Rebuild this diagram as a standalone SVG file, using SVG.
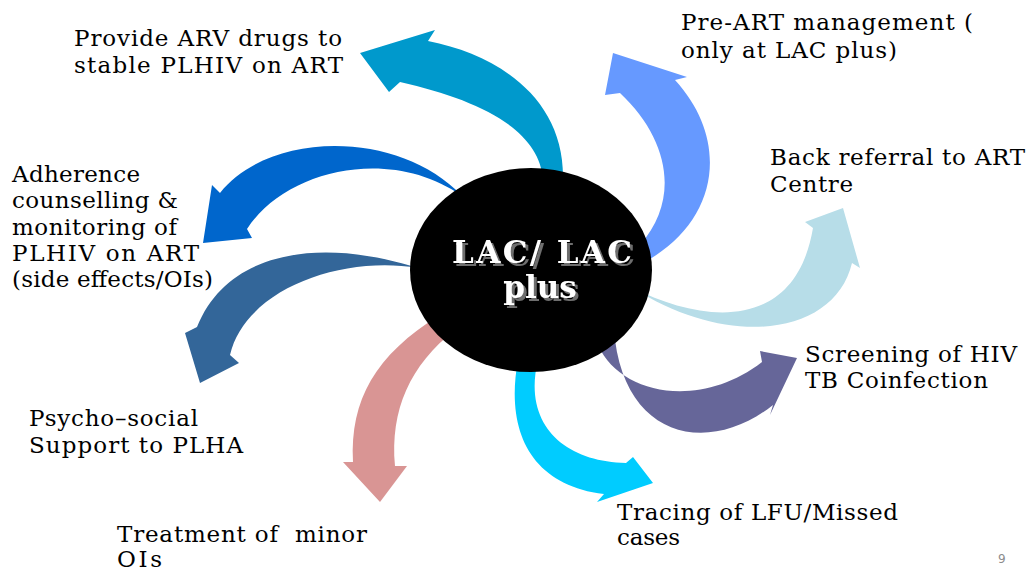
<svg xmlns="http://www.w3.org/2000/svg" width="1029" height="570" viewBox="0 0 1029 570">
<style>
.lbl{font-family:"DejaVu Serif","Liberation Serif",serif;font-size:23px;fill:#000}
.ctr{font-family:"DejaVu Serif","Liberation Serif",serif;font-size:31px;font-weight:bold;fill:#ffffff}
.pg{font-family:"DejaVu Sans","Liberation Sans",sans-serif;font-size:12px;fill:#8c8c8c}
</style>
<defs>
<filter id="shadow" x="-10%" y="-20%" width="130%" height="150%">
<feOffset in="SourceAlpha" dx="2.5" dy="2.5" result="off"/>
<feFlood flood-color="#6e6e6e"/>
<feComposite in2="off" operator="in" result="sh"/>
<feMerge><feMergeNode in="sh"/><feMergeNode in="SourceGraphic"/></feMerge>
</filter>
</defs>
<rect width="1029" height="570" fill="#ffffff"/>
<g id="connectors">
<path id="arrow-arv" fill="#0099CC" d="M 543,180 C 540,130 480,100 400,82 L 389,92 L 360,53 L 435,30 L 428,41 C 500,55 565,100 563,180 Z"/>
<path id="arrow-adherence" fill="#0066CC" d="M 462,196 C 400,130 270,130 220,193 L 212,185 L 203,243 L 252,238 L 247,229 C 285,170 390,145 462,196 Z"/>
<path id="arrow-psycho" fill="#336699" d="M 418,268 C 330,240 230,245 197,327 L 185,333 L 200,383 L 239,363 L 230,355 C 245,290 340,255 418,268 Z"/>
<path id="arrow-treatment" fill="#D99594" d="M 353,462 C 350,400 375,355 440,315 L 455,330 C 410,365 390,410 395,466 L 407,466 L 380,502 L 343,462 Z"/>
<path id="arrow-tracing" fill="#00CCFF" d="M 518,360 C 505,430 530,485 604,494 L 597,502 L 653,483 L 633,457 L 626,463 C 565,462 522,425 538,360 Z"/>
<path id="arrow-screening" fill="#666699" d="M 598,345 C 620,395 700,410 762,362 L 760,351 L 797,358 L 770,415 L 773,405 C 710,455 628,440 615,340 Z"/>
<path id="arrow-backref" fill="#B7DDE8" d="M 633,288 C 700,322 795,335 813,228 L 805,222 L 843,208 L 860,268 L 852,263 C 835,335 730,350 633,288 Z"/>
<path id="arrow-preart" fill="#6699FF" d="M 620,93 C 670,140 680,200 640,245 L 645,262 C 720,220 730,140 675,80 L 687,77 L 613,53 L 605,95 Z"/>
</g>
<g id="center">
<ellipse cx="531" cy="270" rx="121" ry="102" fill="#000000"/>
<text class="ctr" x="542" y="263" text-anchor="middle" textLength="180" filter="url(#shadow)">LAC/ LAC</text>
<text class="ctr" x="540" y="298" text-anchor="middle" filter="url(#shadow)">plus</text>
</g>
<g id="node-arv">
<text class="lbl" x="74" y="46" textLength="268">Provide ARV drugs to</text>
<text class="lbl" x="74" y="73" textLength="269">stable PLHIV on ART</text>
</g>
<g id="node-preart">
<text class="lbl" x="681" y="30" textLength="292">Pre-ART management (</text>
<text class="lbl" x="681" y="58" textLength="216">only at LAC plus)</text>
</g>
<g id="node-backref">
<text class="lbl" x="770" y="165" textLength="255">Back referral to ART</text>
<text class="lbl" x="770" y="192" textLength="83">Centre</text>
</g>
<g id="node-adherence">
<text class="lbl" x="12" y="182" textLength="128">Adherence</text>
<text class="lbl" x="12" y="208" textLength="166">counselling &amp;</text>
<text class="lbl" x="12" y="235" textLength="165">monitoring of</text>
<text class="lbl" x="12" y="261" textLength="187">PLHIV on ART</text>
<text class="lbl" x="12" y="287" textLength="201">(side effects/OIs)</text>
</g>
<g id="node-screening">
<text class="lbl" x="805" y="362" textLength="212">Screening of HIV</text>
<text class="lbl" x="805" y="388" textLength="183">TB Coinfection</text>
</g>
<g id="node-psycho">
<text class="lbl" x="29" y="426" textLength="169">Psycho–social</text>
<text class="lbl" x="29" y="453" textLength="214">Support to PLHA</text>
</g>
<g id="node-tracing">
<text class="lbl" x="617" y="520" textLength="281">Tracing of LFU/Missed</text>
<text class="lbl" x="617" y="545" textLength="63">cases</text>
</g>
<g id="node-treatment">
<text class="lbl" x="117" y="542" textLength="250" xml:space="preserve">Treatment of  minor</text>
<text class="lbl" x="117" y="567" textLength="45">OIs</text>
</g>
<g id="page-number">
<text class="pg" x="998" y="563">9</text>
</g>
</svg>
